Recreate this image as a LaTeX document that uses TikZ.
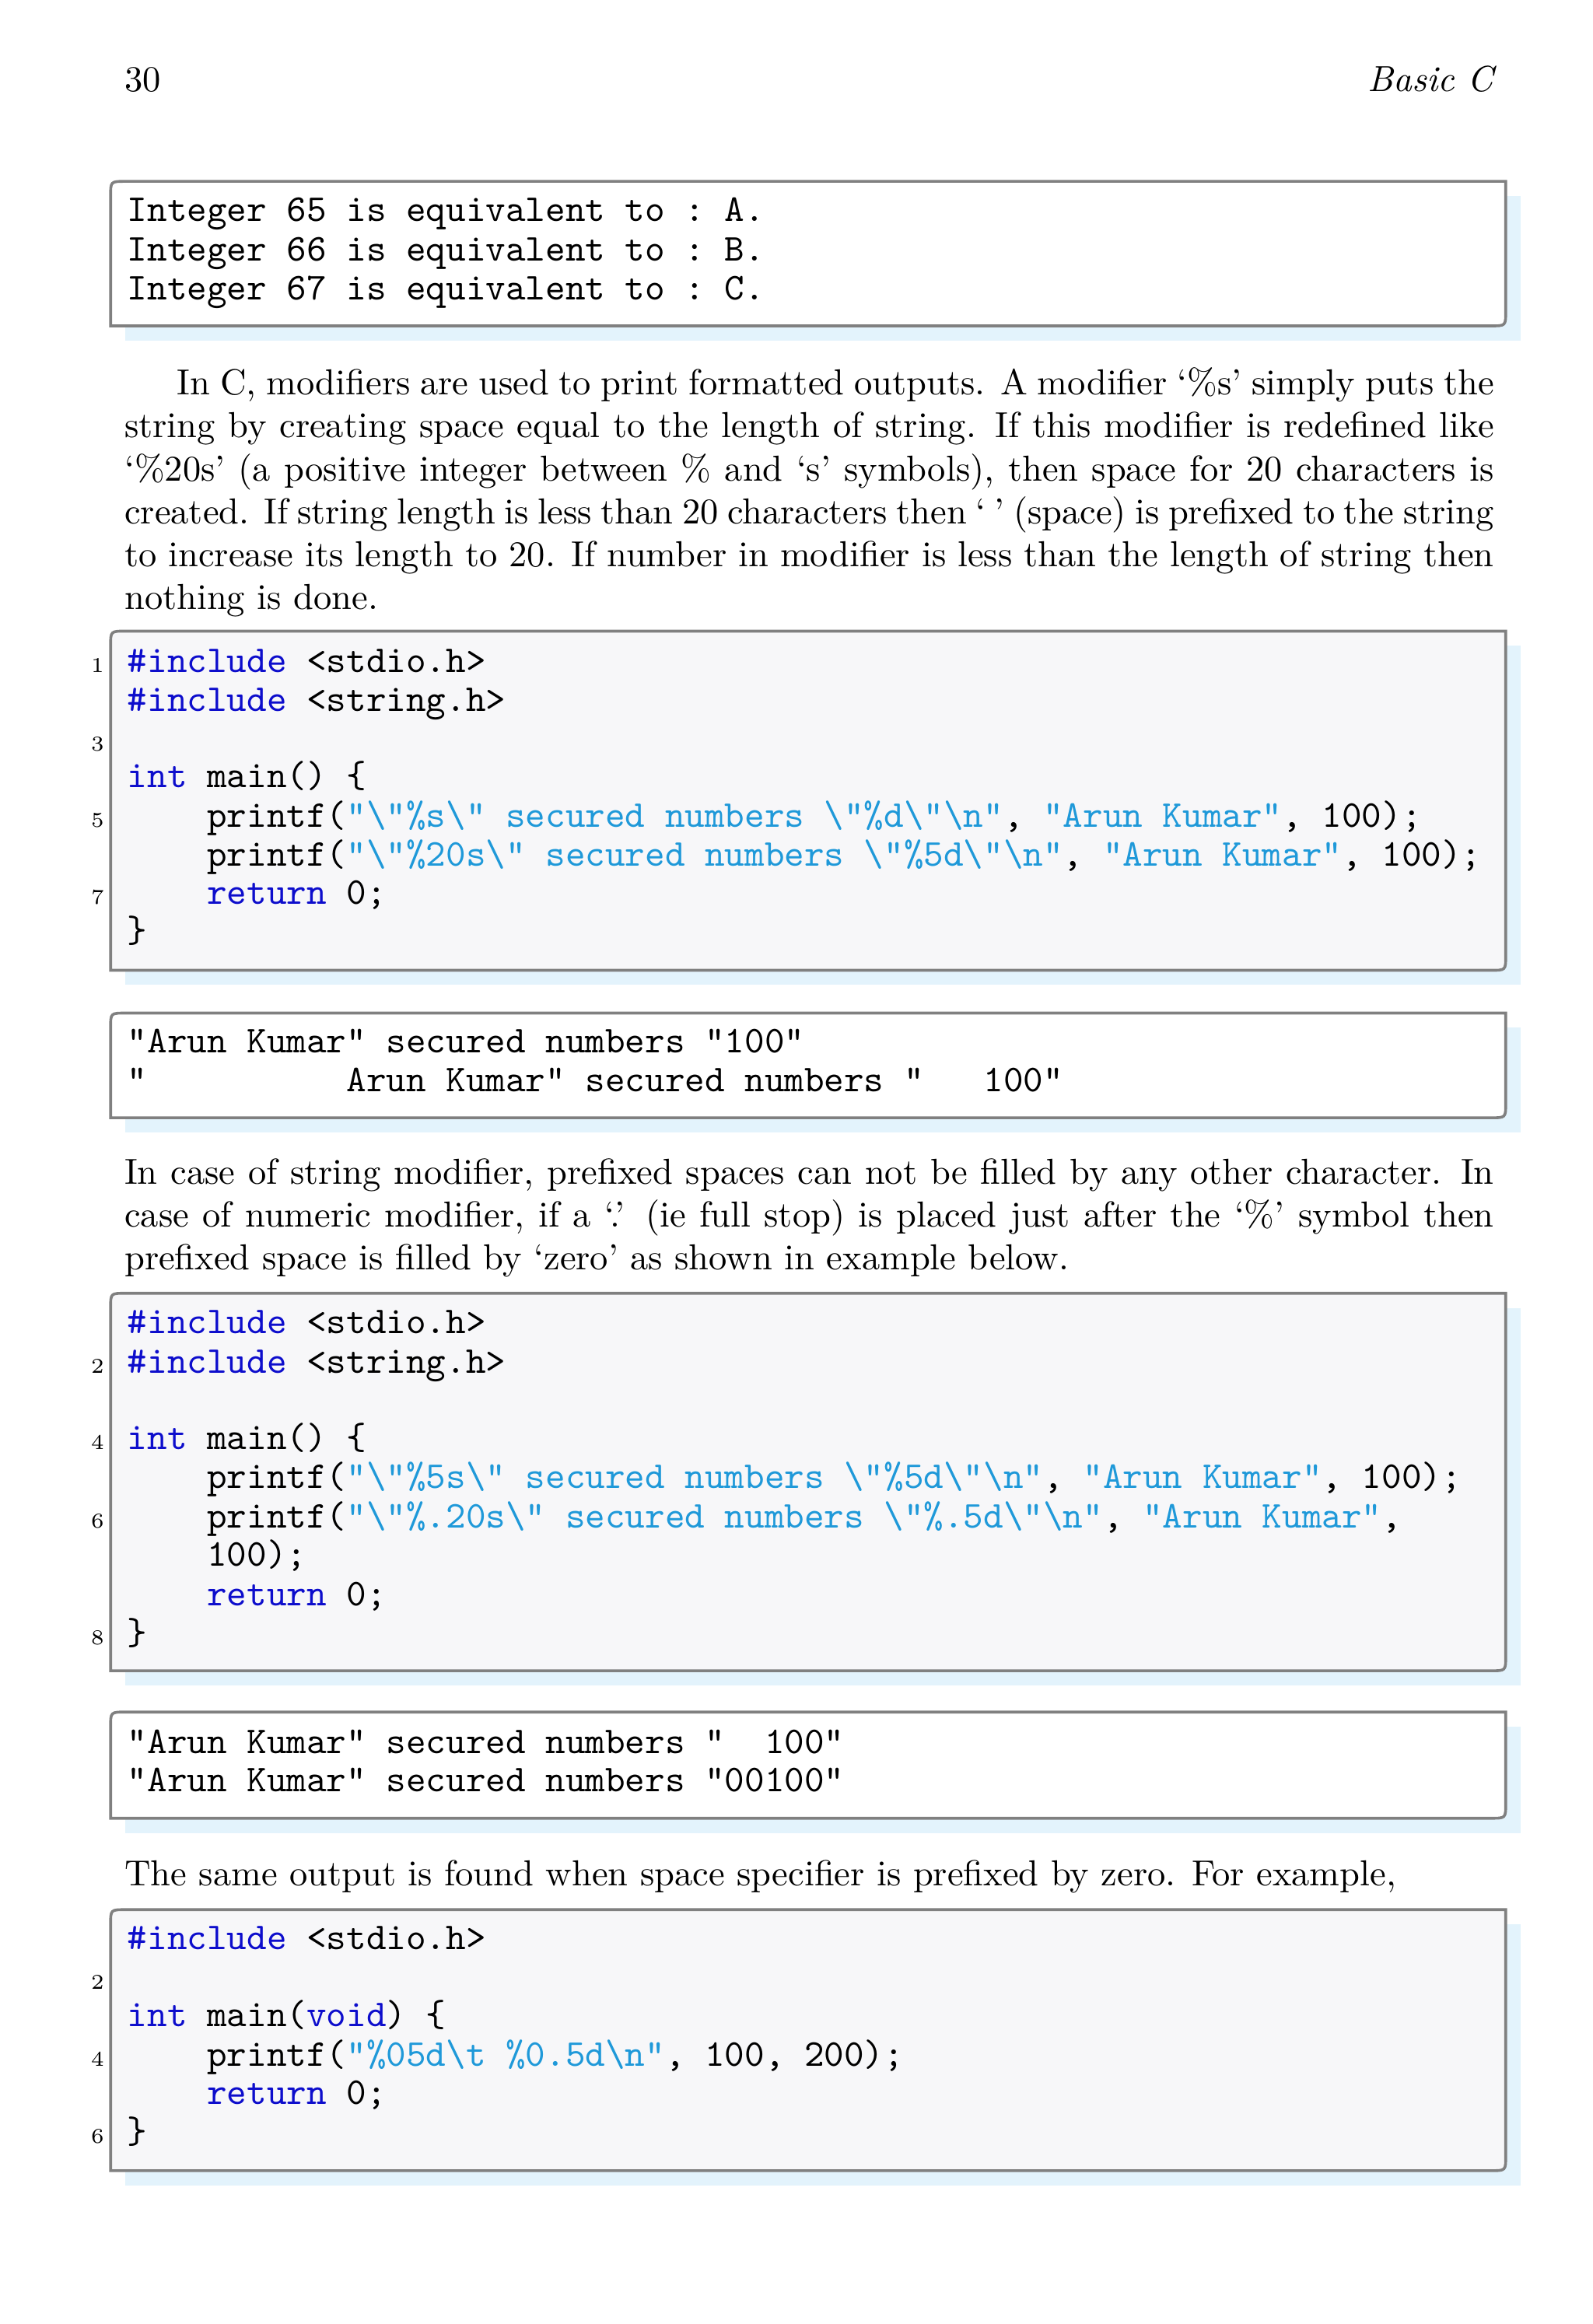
\documentclass[tikz,border=0pt]{standalone}
\definecolor{kwc}{rgb}{0.05,0.05,0.8}
\definecolor{stc}{rgb}{0.12,0.6,0.85}
\definecolor{shadowc}{HTML}{E3F3FC}
\definecolor{codebg}{HTML}{F7F7F9}
\definecolor{linec}{HTML}{808080}
\newcommand\kw[1]{\textcolor{kwc}{#1}}
\newcommand\strc[1]{\textcolor{stc}{#1}}
\newcommand\BS{\textbackslash}
\newcommand\cbx[5]{%
 \fill[shadowc] (#2+10,#3+10) rectangle (#4+10,#5+10);
 \draw[line width=0.8pt,draw=linec,fill=#1] (#2,#3+10) .. controls (#2,#3) .. (#2+10,#3) -- (#4,#3) -- (#4,#5-10) .. controls (#4,#5) .. (#4-10,#5) -- (#2,#5) -- cycle;}
\tikzset{
 code/.style={anchor=mid west,inner sep=0pt,font=\fontsize{10.8}{13}\ttfamily},
 lno/.style={anchor=mid east,inner sep=0pt,font=\fontsize{6}{7}\selectfont},
 para/.style={anchor=north west,inner sep=0pt,text width=390pt,align=justify,font=\fontsize{10.3}{12.2}\selectfont}
}
\begin{document}
\begin{tikzpicture}[x=0.42pt,y=-0.42pt]
\useasboundingbox (0,0) rectangle (1080,1576);
\node[anchor=mid west,inner sep=0pt,font=\fontsize{10.3}{12}\selectfont] (pg) at (84,57) {30};
\node[anchor=mid east,inner sep=0pt,font=\fontsize{10.3}{12}\itshape] (hd) at (1013,57) {Basic C};
% box 1
\cbx{white}{75}{123}{1021}{221}
\node[code] (o1) at (86,145) {Integer~65~is~equivalent~to~:~A.};
\node[code] (o2) at (86,172) {Integer~66~is~equivalent~to~:~B.};
\node[code] (o3) at (86,198) {Integer~67~is~equivalent~to~:~C.};
% paragraph 1
\node[para] (p1) at (84,249) {\parindent=15pt\indent In C, modifiers are used to print formatted outputs. A modifier `\%s' simply puts the\linebreak string by creating space equal to the length of string. If this modifier is redefined like\linebreak `\%20s' (a positive integer between \% and `s' symbols), then space for 20 characters is\linebreak created. If string length is less than 20 characters then `~' (space) is prefixed to the string\linebreak to increase its length to 20. If number in modifier is less than the length of string then\linebreak nothing is done.};
% box 2
\cbx{codebg}{75}{428}{1021}{658}
\node[code] (a1) at (86,451) {\kw{\#include}~<stdio.h>};
\node[code] (a2) at (86,477) {\kw{\#include}~<string.h>};
\node[code] (a4) at (86,529) {\kw{int}~main()~\{};
\node[code] (a5) at (86,556) {~~~~printf(\strc{"\BS"\%s\BS"~secured~numbers~\BS"\%d\BS"\BS n"},~\strc{"Arun~Kumar"},~100);};
\node[code] (a6) at (86,582) {~~~~printf(\strc{"\BS"\%20s\BS"~secured~numbers~\BS"\%5d\BS"\BS n"},~\strc{"Arun~Kumar"},~100);};
\node[code] (a7) at (86,608) {~~~~\kw{return}~0;};
\node[code] (a8) at (86,634) {\}};
\node[lno] (n1) at (71,451) {1};
\node[lno] (n3) at (71,504) {3};
\node[lno] (n5) at (71,556) {5};
\node[lno] (n7) at (71,608) {7};
% box 3
\cbx{white}{75}{687}{1021}{758}
\node[code] (b1) at (86,709) {"Arun~Kumar"~secured~numbers~"100"};
\node[code] (b2) at (86,735) {"~~~~~~~~~~Arun~Kumar"~secured~numbers~"~~~100"};
% paragraph 2
\node[para] (p2) at (84,785) {In case of string modifier, prefixed spaces can not be filled by any other character. In\linebreak case of numeric modifier, if a `.' (ie full stop) is placed just after the `\%' symbol then\linebreak prefixed space is filled by `zero' as shown in example below.};
% box 4
\cbx{codebg}{75}{877}{1021}{1133}
\node[code] (c1) at (86,899) {\kw{\#include}~<stdio.h>};
\node[code] (c2) at (86,926) {\kw{\#include}~<string.h>};
\node[code] (c4) at (86,978) {\kw{int}~main()~\{};
\node[code] (c5) at (86,1004) {~~~~printf(\strc{"\BS"\%5s\BS"~secured~numbers~\BS"\%5d\BS"\BS n"},~\strc{"Arun~Kumar"},~100);};
\node[code] (c6) at (86,1031) {~~~~printf(\strc{"\BS"\%.20s\BS"~secured~numbers~\BS"\%.5d\BS"\BS n"},~\strc{"Arun~Kumar"},};
\node[code] (c6b) at (86,1057) {~~~~100);};
\node[code] (c7) at (86,1084) {~~~~\kw{return}~0;};
\node[code] (c8) at (86,1110) {\}};
\node[lno] (m2) at (71,926) {2};
\node[lno] (m4) at (71,978) {4};
\node[lno] (m6) at (71,1031) {6};
\node[lno] (m8) at (71,1110) {8};
% box 5
\cbx{white}{75}{1161}{1021}{1233}
\node[code] (d1) at (86,1184) {"Arun~Kumar"~secured~numbers~"~~100"};
\node[code] (d2) at (86,1210) {"Arun~Kumar"~secured~numbers~"00100"};
% paragraph 3
\node[para] (p3) at (84,1261) {The same output is found when space specifier is prefixed by zero. For example,};
% box 6
\cbx{codebg}{75}{1295}{1021}{1472}
\node[code] (e1) at (86,1317) {\kw{\#include}~<stdio.h>};
\node[code] (e3) at (86,1369) {\kw{int}~main(\kw{void})~\{};
\node[code] (e4) at (86,1396) {~~~~printf(\strc{"\%05d\BS t~\%0.5d\BS n"},~100,~200);};
\node[code] (e5) at (86,1422) {~~~~\kw{return}~0;};
\node[code] (e6) at (86,1448) {\}};
\node[lno] (k2) at (71,1344) {2};
\node[lno] (k4) at (71,1396) {4};
\node[lno] (k6) at (71,1448) {6};
\end{tikzpicture}
\end{document}
